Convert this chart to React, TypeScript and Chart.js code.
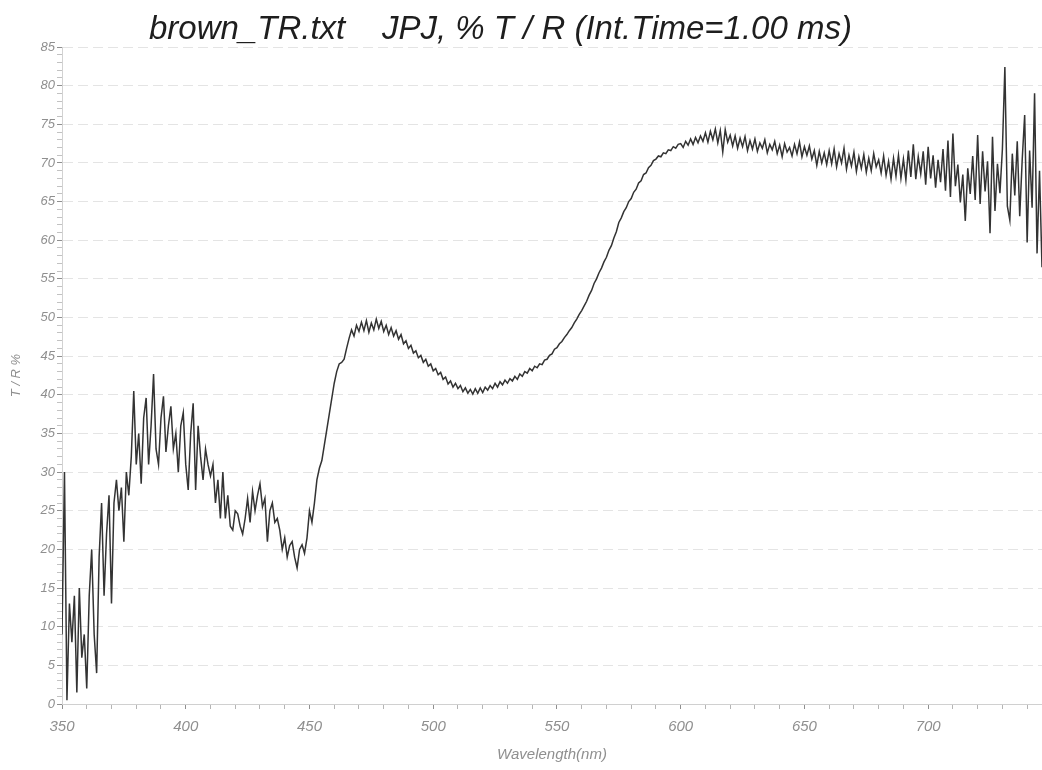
import React, { useEffect, useRef } from "react";
import { Chart, registerables } from "chart.js";

Chart.register(...registerables);

const TITLE = "brown_TR.txt    JPJ, % T / R (Int.Time=1.00 ms)";
const X_TITLE = "Wavelength(nm)";
const Y_TITLE = "T / R %";

const START_NM = 350;
const STEP_NM = 1;
const X_MIN = 350;
const X_MAX = 746;
const Y_MIN = 0;
const Y_MAX = 85;

// % T / R, one value per nanometre starting at 350 nm
const transmittance = [
  9, 30, 0.5, 13, 8, 14, 1.5, 15, 6, 9, // 350
  2, 14, 20, 9, 4, 19, 26, 14, 22, 27, // 360
  13, 26, 29, 25, 28, 21, 30, 27, 32, 40.5, // 370
  31, 35, 28.5, 37, 39.6, 31, 36, 42.7, 33, 31, // 380
  37, 39.8, 32.6, 36, 38.5, 33, 35, 30, 36, 37.7, // 390
  31, 27.7, 35, 38.9, 27.7, 36, 32, 29, 33, 31, // 400
  29.5, 31, 26, 29, 24, 30, 24, 27, 23, 22.5, // 410
  25, 24.6, 23, 22, 24, 26.6, 23.5, 27.5, 25, 27, // 420
  28.5, 25.5, 26.6, 21, 25, 26, 23.5, 24, 22.5, 20, // 430
  21.5, 19, 20.5, 21, 19, 17.6, 20, 20.6, 19.5, 21.5, // 440
  25, 23.5, 26, 29, 30.5, 31.5, 33.5, 35.5, 37.5, 39.5, // 450
  41.5, 43, 44, 44.2, 44.6, 46, 47.3, 48.4, 47.6, 49.0, // 460
  48.2, 49.4, 48.3, 49.6, 48.1, 49.3, 48.4, 49.8, 48.6, 49.5, // 470
  48.2, 49.0, 47.8, 48.7, 47.6, 48.3, 47.2, 47.8, 46.6, 47.0, // 480
  46.0, 46.4, 45.4, 45.7, 44.8, 45.1, 44.2, 44.6, 43.7, 44.0, // 490
  43.1, 43.4, 42.6, 42.9, 42.0, 42.3, 41.4, 41.8, 41.0, 41.5, // 500
  40.8, 41.2, 40.4, 40.9, 40.2, 40.7, 40.1, 40.8, 40.2, 40.9, // 510
  40.3, 41.0, 40.6, 41.2, 40.8, 41.5, 41.0, 41.7, 41.3, 41.9, // 520
  41.5, 42.1, 41.8, 42.4, 42.0, 42.7, 42.4, 43.0, 42.8, 43.4, // 530
  43.1, 43.7, 43.5, 44.0, 43.9, 44.5, 44.6, 45.1, 45.3, 45.9, // 540
  46.1, 46.6, 46.9, 47.4, 47.8, 48.3, 48.7, 49.3, 49.8, 50.4, // 550
  50.9, 51.5, 52.1, 52.9, 53.5, 54.4, 55.0, 55.8, 56.4, 57.2, // 560
  57.8, 58.7, 59.3, 60.3, 61.1, 62.3, 62.9, 63.7, 64.2, 65.0, // 570
  65.4, 66.2, 66.6, 67.4, 67.7, 68.5, 68.7, 69.4, 69.7, 70.3, // 580
  70.5, 70.9, 70.8, 71.3, 71.2, 71.7, 71.6, 72.1, 71.9, 72.4, // 590
  72.5, 72.0, 72.8, 72.3, 73.1, 72.4, 73.3, 72.6, 73.5, 72.8, // 600
  73.9, 72.7, 74.1, 73.0, 74.4, 72.6, 74.2, 71.4, 74.3, 72.7, // 610
  73.6, 72.2, 73.5, 71.9, 73.2, 72.1, 73.4, 71.6, 72.9, 71.8, // 620
  73.1, 71.5, 72.6, 71.9, 73.0, 71.3, 72.4, 71.7, 72.8, 71.2, // 630
  72.3, 70.8, 72.5, 71.4, 72.0, 70.9, 72.4, 71.2, 72.7, 70.8, // 640
  72.1, 71.0, 72.2, 70.5, 71.6, 69.7, 71.5, 70.0, 71.3, 69.8, // 650
  71.6, 69.9, 71.8, 69.5, 71.2, 70.0, 71.9, 69.2, 71.0, 69.6, // 660
  71.4, 68.9, 70.8, 69.3, 71.1, 68.8, 70.6, 69.0, 71.2, 69.5, // 670
  70.4, 68.7, 70.9, 68.4, 70.2, 67.9, 70.6, 68.3, 71.0, 68.0, // 680
  70.5, 67.8, 71.6, 68.2, 72.4, 67.9, 70.8, 68.6, 71.5, 67.2, // 690
  72.1, 68.0, 71.0, 66.8, 70.4, 67.5, 71.8, 66.4, 72.9, 65.6, // 700
  73.8, 67.0, 69.8, 64.9, 68.5, 62.5, 69.3, 66.0, 70.9, 65.2, // 710
  73.6, 64.7, 71.5, 66.3, 70.2, 60.9, 73.4, 63.8, 69.9, 66.1, // 720
  71.8, 82.4, 64.4, 62.6, 71.2, 65.8, 72.8, 63.1, 70.4, 76.2, // 730
  59.7, 71.6, 64.2, 79.0, 58.3, 69.0, 56.5, // 740
];

const wavelengths = transmittance.map((_, i) => START_NM + i * STEP_NM);

const xTickLabels = [350, 400, 450, 500, 550, 600, 650, 700];
const yTickLabels = [0, 5, 10, 15, 20, 25, 30, 35, 40, 45, 50, 55, 60, 65, 70, 75, 80, 85];

const FONT_FAMILY = '"Liberation Sans", Arial, Helvetica, sans-serif';

const titlePlugin = {
  id: "scanTitle",
  afterDraw(chart: any) {
    const ctx = chart.ctx;
    ctx.save();
    ctx.font = `italic 33px ${FONT_FAMILY}`;
    ctx.fillStyle = "#1e1e1e";
    ctx.textAlign = "left";
    ctx.textBaseline = "alphabetic";
    ctx.fillText(TITLE, 149, 39);
    ctx.restore();
  },
};

export default function App() {
  const canvasRef = useRef<HTMLCanvasElement | null>(null);

  useEffect(() => {
    if (!canvasRef.current) return;
    const points = wavelengths.map((x, i) => ({ x, y: transmittance[i] }));
    const chart = new Chart(canvasRef.current, {
      type: "line",
      data: {
        datasets: [
          {
            label: "T / R",
            data: points,
            borderColor: "#333333",
            borderWidth: 1.5,
            pointRadius: 0,
            fill: false,
            tension: 0,
          },
        ],
      },
      plugins: [titlePlugin],
      options: {
        animation: false,
        responsive: false,
        devicePixelRatio: 1,
        layout: { padding: { top: 47, left: 0, right: 0, bottom: 0 } },
        plugins: {
          legend: { display: false },
          tooltip: { enabled: false },
          title: { display: false },
        },
        scales: {
          x: {
            type: "linear",
            min: X_MIN,
            max: X_MAX,
            afterFit: (s: any) => {
              s.height = 66;
            },
            afterBuildTicks: (s: any) => {
              const t = [];
              for (let v = X_MIN; v <= 740; v += 10) t.push({ value: v });
              s.ticks = t;
            },
            ticks: {
              autoSkip: false,
              maxRotation: 0,
              minRotation: 0,
              padding: 9,
              color: "#8f8f8f",
              font: { family: FONT_FAMILY, style: "italic", size: 15 },
              callback: (v: any) => (xTickLabels.includes(Number(v)) ? String(v) : ""),
            },
            grid: {
              drawOnChartArea: false,
              drawTicks: true,
              tickLength: 5,
              tickColor: (c: any) =>
                c.tick && xTickLabels.includes(c.tick.value) ? "#8f8f8f" : "#b5b5b5",
            },
            border: { display: true, color: "#d0d0d0" },
            title: {
              display: true,
              text: X_TITLE,
              color: "#8f8f8f",
              font: { family: FONT_FAMILY, style: "italic", size: 15 },
              padding: { top: 0, bottom: 6 },
            },
          },
          y: {
            min: Y_MIN,
            max: Y_MAX,
            afterFit: (s: any) => {
              s.width = 62;
            },
            afterBuildTicks: (s: any) => {
              const t = [];
              for (let v = Y_MIN; v <= Y_MAX; v += 1) t.push({ value: v });
              s.ticks = t;
            },
            ticks: {
              autoSkip: false,
              padding: 2,
              color: "#8f8f8f",
              font: { family: FONT_FAMILY, style: "italic", size: 13 },
              callback: (v: any) => (yTickLabels.includes(Number(v)) ? String(v) : ""),
            },
            grid: {
              drawOnChartArea: true,
              drawTicks: true,
              tickLength: 5,
              color: (c: any) =>
                c.tick && yTickLabels.includes(c.tick.value) ? "#e4e4e4" : "rgba(0,0,0,0)",
              tickColor: (c: any) =>
                c.tick && yTickLabels.includes(c.tick.value) ? "#8f8f8f" : "#c2c2c2",
            },
            border: { display: true, color: "#d2d2d2", dash: [10, 5] },
            title: {
              display: true,
              text: Y_TITLE,
              color: "#8f8f8f",
              font: { family: FONT_FAMILY, style: "italic", size: 13 },
              padding: { top: 9, bottom: 0 },
            },
          },
        },
      },
    });
    return () => chart.destroy();
  }, []);

  return (
    <div
      style={{
        position: "absolute",
        left: 0,
        top: 0,
        width: 1042,
        height: 770,
        background: "#ffffff",
      }}
    >
      <canvas ref={canvasRef} width={1042} height={770} />
    </div>
  );
}
